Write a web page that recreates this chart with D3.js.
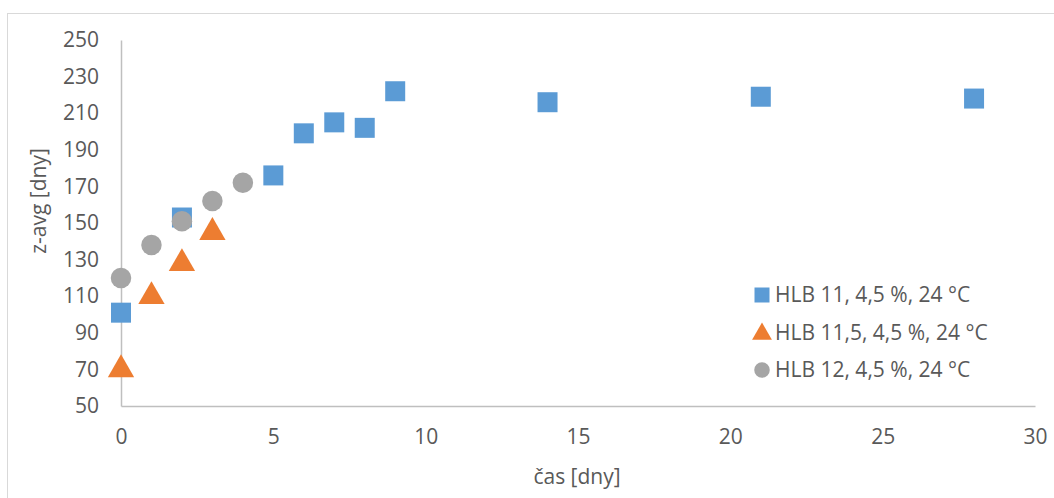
<!DOCTYPE html>
<html>
<head>
<meta charset="utf-8">
<script src="https://cdn.jsdelivr.net/npm/d3@7"></script>
<style>
  body { margin: 0; background: #fff; }
  text { font-family: "Open Sans", "Noto Sans", sans-serif; fill: #595959; }
</style>
</head>
<body>
<svg id="chart" width="1054" height="498"></svg>
<script>
// data
var seriesNames = ["HLB 11, 4,5 %, 24 °C", "HLB 11,5, 4,5 %, 24 °C", "HLB 12, 4,5 %, 24 °C"];
var hlb11Days  = [0, 2, 5, 6, 7, 8, 9, 14, 21, 28];
var hlb11Zavg  = [101, 153, 176, 199, 205, 202, 222, 216, 219, 218];
var hlb115Days = [0, 1, 2, 3];
var hlb115Zavg = [71, 111, 129, 146];
var hlb12Days  = [0, 1, 2, 3, 4];
var hlb12Zavg  = [120, 138, 151, 162, 172];
var xTicks = [0, 5, 10, 15, 20, 25, 30];
var yTicks = [50, 70, 90, 110, 130, 150, 170, 190, 210, 230, 250];

var colors = ["#5B9BD5", "#ED7D31", "#A5A5A5"];
var shapes = [d3.symbolSquare, d3.symbolTriangle, d3.symbolCircle];

var svg = d3.select("#chart");

// chart frame
svg.append("rect")
  .attr("x", 7.5).attr("y", 13.5)
  .attr("width", 1060).attr("height", 500)
  .attr("fill", "none").attr("stroke", "#D9D9D9");

var x = d3.scaleLinear().domain([0, 30]).range([121, 1035]);
var y = d3.scaleLinear().domain([50, 250]).range([406, 40]);

// y axis
var yAxis = svg.append("g")
  .attr("transform", "translate(121,0)")
  .call(d3.axisLeft(y).tickValues(yTicks).tickSize(0).tickPadding(22));
yAxis.select(".domain").attr("stroke", "#BFBFBF").attr("stroke-width", 1.5);
yAxis.selectAll("text").style("font-size", "21px").attr("fill", "#595959");

// x axis
var xAxis = svg.append("g")
  .attr("transform", "translate(0,406)")
  .call(d3.axisBottom(x).tickValues(xTicks).tickSize(0).tickPadding(23));
xAxis.select(".domain").attr("stroke", "#BFBFBF").attr("stroke-width", 1.5);
xAxis.selectAll("text").style("font-size", "21px").attr("fill", "#595959");

// axis titles
svg.append("text")
  .attr("transform", "translate(46,201) rotate(-90)")
  .attr("text-anchor", "middle")
  .style("font-size", "21px")
  .text("z-avg [dny]");

svg.append("text")
  .attr("x", 577).attr("y", 484)
  .attr("text-anchor", "middle")
  .style("font-size", "21px")
  .text("čas [dny]");

var series = [
  {days: hlb11Days, vals: hlb11Zavg},
  {days: hlb115Days, vals: hlb115Zavg},
  {days: hlb12Days, vals: hlb12Zavg}
];
var sizes = [400, 300, 330];

series.forEach(function(s, i) {
  var pts = s.days.map(function(d, j) { return [d, s.vals[j]]; });
  svg.append("g").selectAll("path")
    .data(pts).enter().append("path")
    .attr("d", d3.symbol().type(shapes[i]).size(sizes[i]))
    .attr("transform", function(d) {
      var dy = i == 1 ? 2 : 0;
      return "translate(" + x(d[0]) + "," + (y(d[1]) + dy) + ")";
    })
    .attr("fill", colors[i]);
});

// legend
var legend = svg.append("g").attr("transform", "translate(754,0)");
var legendY = [295, 333, 370];
var legendSizes = [225, 170, 190];
seriesNames.forEach(function(name, i) {
  legend.append("path")
    .attr("d", d3.symbol().type(shapes[i]).size(legendSizes[i]))
    .attr("transform", "translate(8," + (legendY[i] + (i == 1 ? 1 : 0)) + ")")
    .attr("fill", colors[i]);
  legend.append("text")
    .attr("x", 21).attr("y", legendY[i])
    .attr("dy", "0.35em")
    .style("font-size", "21px")
    .text(name);
});
</script>
</body>
</html>
